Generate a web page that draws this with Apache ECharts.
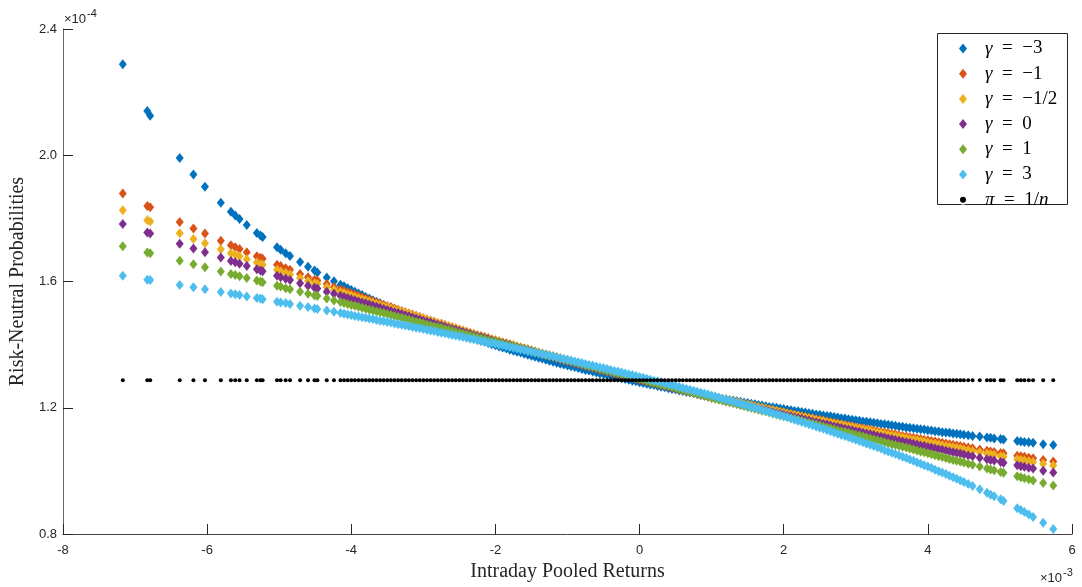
<!DOCTYPE html>
<html>
<head>
<meta charset="utf-8">
<script src="https://cdn.jsdelivr.net/npm/echarts@6/dist/echarts.min.js"></script>
<style>
  html, body { margin: 0; padding: 0; background: #fff; }
  #chart { width: 1082px; height: 587px; }
</style>
</head>
<body>
<div id="chart"></div>
<script>
// intraday pooled returns, in units of 1e-3
const returns = [
  -7.17, -6.83, -6.79, -6.38, -6.19, -6.03, -5.81, -5.67, -5.61, -5.55, -5.45, -5.31, -5.26, -5.23,
  -5.03, -4.98, -4.91, -4.85, -4.71, -4.60, -4.51, -4.47, -4.34,
  -4.24, -4.15, -4.10, -4.05, -4.00, -3.95, -3.90, -3.85, -3.80, -3.75, -3.70, -3.65, -3.60, -3.55,
  -3.50, -3.45, -3.40, -3.35, -3.30, -3.25, -3.20, -3.15, -3.10, -3.05,
  -3.00, -2.95, -2.90, -2.85, -2.80, -2.75, -2.70, -2.65, -2.60, -2.55,
  -2.50, -2.45, -2.40, -2.35, -2.30, -2.25, -2.20, -2.15, -2.10, -2.05,
  -2.00, -1.95, -1.90, -1.85, -1.80, -1.75, -1.70, -1.65, -1.60, -1.55,
  -1.50, -1.45, -1.40, -1.35, -1.30, -1.25, -1.20, -1.15, -1.10, -1.05,
  -1.00, -0.95, -0.90, -0.85, -0.80, -0.75, -0.70, -0.65, -0.60, -0.55,
  -0.50, -0.45, -0.40, -0.35, -0.30, -0.25, -0.20, -0.15, -0.10, -0.05,
  0.00, 0.05, 0.10, 0.15, 0.20, 0.25, 0.30, 0.35, 0.40, 0.45,
  0.50, 0.55, 0.60, 0.65, 0.70, 0.75, 0.80, 0.85, 0.90, 0.95,
  1.00, 1.05, 1.10, 1.15, 1.20, 1.25, 1.30, 1.35, 1.40, 1.45,
  1.50, 1.55, 1.60, 1.65, 1.70, 1.75, 1.80, 1.85, 1.90, 1.95,
  2.00, 2.05, 2.10, 2.15, 2.20, 2.25, 2.30, 2.35, 2.40, 2.45,
  2.50, 2.55, 2.60, 2.65, 2.70, 2.75, 2.80, 2.85, 2.90, 2.95,
  3.00, 3.05, 3.10, 3.15, 3.20, 3.25, 3.30, 3.35, 3.40, 3.45,
  3.50,
  3.55, 3.60, 3.65, 3.70, 3.75, 3.80, 3.85, 3.90, 3.95, 4.00, 4.05, 4.10, 4.15, 4.20, 4.25, 4.30, 4.35,
  4.40, 4.45, 4.50, 4.56, 4.62, 4.72, 4.82, 4.87, 4.92, 5.01, 5.05,
  5.24, 5.29, 5.34, 5.40, 5.46, 5.60, 5.74
];

// risk-neutral probabilities, in units of 1e-4
const gammaMinus3 = [
  2.288, 2.140, 2.125, 1.991, 1.939, 1.900, 1.850, 1.821, 1.809, 1.798, 1.779, 1.754, 1.746, 1.741,
  1.709, 1.701, 1.690, 1.681, 1.662, 1.647, 1.635, 1.629, 1.613,
  1.601, 1.590, 1.585, 1.579, 1.573, 1.568, 1.562, 1.557, 1.551, 1.546, 1.541, 1.536, 1.531, 1.526,
  1.521, 1.516, 1.512, 1.507, 1.503, 1.498, 1.493, 1.489, 1.484, 1.480,
  1.475, 1.471, 1.467, 1.463, 1.459, 1.455, 1.451, 1.447, 1.442, 1.438,
  1.434, 1.431, 1.427, 1.423, 1.420, 1.416, 1.412, 1.409, 1.405, 1.401,
  1.398, 1.394, 1.391, 1.388, 1.384, 1.381, 1.378, 1.375, 1.371, 1.368,
  1.365, 1.362, 1.359, 1.356, 1.352, 1.349, 1.346, 1.343, 1.340, 1.337,
  1.334, 1.332, 1.329, 1.326, 1.323, 1.320, 1.318, 1.315, 1.312, 1.309,
  1.307, 1.304, 1.302, 1.299, 1.296, 1.294, 1.291, 1.289, 1.286, 1.284,
  1.281, 1.279, 1.276, 1.274, 1.272, 1.269, 1.267, 1.265, 1.262, 1.260,
  1.258, 1.255, 1.253, 1.251, 1.249, 1.247, 1.244, 1.242, 1.240, 1.238,
  1.236, 1.233, 1.231, 1.229, 1.227, 1.225, 1.223, 1.221, 1.219, 1.217,
  1.215, 1.213, 1.211, 1.209, 1.207, 1.205, 1.203, 1.202, 1.200, 1.198,
  1.196, 1.194, 1.192, 1.190, 1.189, 1.187, 1.185, 1.183, 1.181, 1.179,
  1.178, 1.176, 1.174, 1.173, 1.171, 1.169, 1.167, 1.166, 1.164, 1.162,
  1.161, 1.159, 1.157, 1.156, 1.154, 1.153, 1.151, 1.149, 1.148, 1.146,
  1.145,
  1.143, 1.141, 1.140, 1.138, 1.137, 1.135, 1.134, 1.132, 1.131, 1.129, 1.128, 1.126, 1.125, 1.123, 1.122, 1.121, 1.119,
  1.118, 1.116, 1.115, 1.113, 1.111, 1.109, 1.106, 1.105, 1.103, 1.101, 1.100,
  1.095, 1.093, 1.092, 1.091, 1.089, 1.085, 1.082
];

const gammaMinus1 = [
  1.879, 1.839, 1.835, 1.789, 1.768, 1.752, 1.729, 1.715, 1.709, 1.703, 1.693, 1.680, 1.675, 1.672,
  1.653, 1.649, 1.642, 1.637, 1.624, 1.614, 1.606, 1.603, 1.592,
  1.583, 1.575, 1.571, 1.567, 1.563, 1.559, 1.555, 1.550, 1.546, 1.542, 1.538, 1.534, 1.530, 1.526,
  1.522, 1.519, 1.515, 1.511, 1.507, 1.503, 1.499, 1.496, 1.492, 1.488,
  1.484, 1.480, 1.477, 1.473, 1.469, 1.466, 1.462, 1.458, 1.455, 1.451,
  1.448, 1.444, 1.441, 1.437, 1.434, 1.430, 1.427, 1.423, 1.420, 1.416,
  1.413, 1.410, 1.406, 1.403, 1.400, 1.396, 1.393, 1.390, 1.386, 1.383,
  1.380, 1.376, 1.373, 1.370, 1.367, 1.364, 1.361, 1.358, 1.354, 1.351,
  1.348, 1.345, 1.342, 1.339, 1.336, 1.333, 1.330, 1.327, 1.324, 1.321,
  1.318, 1.315, 1.312, 1.309, 1.306, 1.303, 1.301, 1.298, 1.295, 1.292,
  1.289, 1.286, 1.283, 1.281, 1.278, 1.275, 1.272, 1.270, 1.267, 1.264,
  1.261, 1.259, 1.256, 1.253, 1.251, 1.248, 1.246, 1.243, 1.240, 1.238,
  1.235, 1.232, 1.230, 1.227, 1.225, 1.222, 1.220, 1.217, 1.215, 1.212,
  1.210, 1.207, 1.205, 1.202, 1.200, 1.197, 1.195, 1.193, 1.190, 1.188,
  1.185, 1.183, 1.181, 1.178, 1.176, 1.174, 1.171, 1.169, 1.167, 1.164,
  1.162, 1.160, 1.157, 1.155, 1.153, 1.151, 1.148, 1.146, 1.144, 1.142,
  1.139, 1.137, 1.135, 1.133, 1.131, 1.129, 1.126, 1.124, 1.122, 1.120,
  1.118,
  1.116, 1.113, 1.111, 1.109, 1.107, 1.105, 1.103, 1.101, 1.099, 1.097, 1.095, 1.093, 1.091, 1.089, 1.087, 1.085, 1.083,
  1.081, 1.079, 1.077, 1.074, 1.072, 1.068, 1.064, 1.062, 1.060, 1.057, 1.056,
  1.048, 1.047, 1.045, 1.042, 1.040, 1.035, 1.030
];

const gammaMinusHalf = [
  1.826, 1.794, 1.790, 1.753, 1.735, 1.721, 1.702, 1.690, 1.685, 1.680, 1.671, 1.660, 1.655, 1.653,
  1.637, 1.632, 1.627, 1.622, 1.611, 1.602, 1.595, 1.592, 1.582,
  1.574, 1.567, 1.563, 1.559, 1.556, 1.552, 1.548, 1.544, 1.541, 1.537, 1.533, 1.529, 1.526, 1.522,
  1.519, 1.515, 1.511, 1.508, 1.504, 1.501, 1.497, 1.493, 1.490, 1.486,
  1.483, 1.479, 1.476, 1.472, 1.469, 1.465, 1.462, 1.459, 1.455, 1.452,
  1.448, 1.445, 1.441, 1.438, 1.435, 1.431, 1.428, 1.425, 1.421, 1.418,
  1.415, 1.412, 1.408, 1.405, 1.402, 1.399, 1.395, 1.392, 1.389, 1.386,
  1.383, 1.379, 1.376, 1.373, 1.370, 1.367, 1.364, 1.361, 1.358, 1.354,
  1.351, 1.348, 1.345, 1.342, 1.339, 1.336, 1.333, 1.330, 1.327, 1.324,
  1.321, 1.318, 1.315, 1.313, 1.310, 1.307, 1.304, 1.301, 1.298, 1.295,
  1.292, 1.289, 1.287, 1.284, 1.281, 1.278, 1.275, 1.272, 1.270, 1.267,
  1.264, 1.261, 1.259, 1.256, 1.253, 1.250, 1.248, 1.245, 1.242, 1.239,
  1.237, 1.234, 1.231, 1.229, 1.226, 1.224, 1.221, 1.218, 1.216, 1.213,
  1.210, 1.208, 1.205, 1.203, 1.200, 1.198, 1.195, 1.193, 1.190, 1.187,
  1.185, 1.182, 1.180, 1.177, 1.175, 1.172, 1.170, 1.167, 1.165, 1.162,
  1.160, 1.158, 1.155, 1.153, 1.150, 1.148, 1.146, 1.143, 1.141, 1.139,
  1.136, 1.134, 1.131, 1.129, 1.127, 1.124, 1.122, 1.120, 1.117, 1.115,
  1.113,
  1.111, 1.108, 1.106, 1.104, 1.101, 1.099, 1.097, 1.095, 1.093, 1.090, 1.088, 1.086, 1.084, 1.081, 1.079, 1.077, 1.075,
  1.073, 1.071, 1.068, 1.066, 1.063, 1.059, 1.055, 1.053, 1.051, 1.047, 1.045,
  1.037, 1.035, 1.033, 1.031, 1.028, 1.023, 1.017
];

const gammaZero = [
  1.782, 1.755, 1.752, 1.720, 1.705, 1.693, 1.676, 1.665, 1.661, 1.656, 1.649, 1.639, 1.635, 1.633,
  1.618, 1.614, 1.609, 1.605, 1.595, 1.587, 1.580, 1.578, 1.568,
  1.561, 1.555, 1.551, 1.548, 1.544, 1.541, 1.537, 1.534, 1.531, 1.527, 1.524, 1.520, 1.517, 1.513,
  1.510, 1.507, 1.503, 1.500, 1.497, 1.493, 1.490, 1.486, 1.483, 1.480,
  1.476, 1.473, 1.470, 1.466, 1.463, 1.460, 1.457, 1.453, 1.450, 1.447,
  1.443, 1.440, 1.437, 1.434, 1.430, 1.427, 1.424, 1.421, 1.418, 1.414,
  1.411, 1.408, 1.405, 1.402, 1.399, 1.395, 1.392, 1.389, 1.386, 1.383,
  1.380, 1.377, 1.373, 1.370, 1.367, 1.364, 1.361, 1.358, 1.355, 1.352,
  1.349, 1.346, 1.343, 1.340, 1.337, 1.334, 1.331, 1.328, 1.325, 1.322,
  1.319, 1.316, 1.313, 1.310, 1.307, 1.304, 1.301, 1.298, 1.295, 1.292,
  1.289, 1.286, 1.284, 1.281, 1.278, 1.275, 1.272, 1.269, 1.266, 1.263,
  1.261, 1.258, 1.255, 1.252, 1.249, 1.247, 1.244, 1.241, 1.238, 1.235,
  1.232, 1.230, 1.227, 1.224, 1.221, 1.219, 1.216, 1.213, 1.210, 1.208,
  1.205, 1.202, 1.200, 1.197, 1.194, 1.192, 1.189, 1.186, 1.183, 1.181,
  1.178, 1.175, 1.173, 1.170, 1.168, 1.165, 1.162, 1.160, 1.157, 1.154,
  1.152, 1.149, 1.147, 1.144, 1.141, 1.139, 1.136, 1.134, 1.131, 1.129,
  1.126, 1.124, 1.121, 1.119, 1.116, 1.114, 1.111, 1.108, 1.106, 1.103,
  1.101,
  1.098, 1.096, 1.093, 1.091, 1.089, 1.086, 1.084, 1.081, 1.079, 1.076, 1.074, 1.071, 1.069, 1.067, 1.064, 1.062, 1.059,
  1.057, 1.055, 1.052, 1.049, 1.047, 1.042, 1.037, 1.035, 1.033, 1.028, 1.026,
  1.018, 1.015, 1.013, 1.010, 1.008, 1.001, 0.995
];

const gammaPlus1 = [
  1.712, 1.692, 1.690, 1.666, 1.655, 1.645, 1.632, 1.624, 1.621, 1.617, 1.611, 1.603, 1.600, 1.598,
  1.587, 1.584, 1.579, 1.576, 1.568, 1.561, 1.556, 1.554, 1.546,
  1.540, 1.535, 1.532, 1.529, 1.526, 1.523, 1.520, 1.517, 1.514, 1.511, 1.508, 1.505, 1.503, 1.500,
  1.497, 1.494, 1.491, 1.488, 1.485, 1.482, 1.479, 1.476, 1.473, 1.470,
  1.467, 1.464, 1.461, 1.458, 1.456, 1.453, 1.450, 1.447, 1.444, 1.441,
  1.438, 1.435, 1.432, 1.429, 1.426, 1.423, 1.420, 1.417, 1.414, 1.411,
  1.409, 1.406, 1.403, 1.400, 1.397, 1.394, 1.391, 1.388, 1.385, 1.382,
  1.379, 1.376, 1.373, 1.370, 1.367, 1.364, 1.362, 1.359, 1.356, 1.353,
  1.350, 1.347, 1.344, 1.341, 1.338, 1.335, 1.332, 1.329, 1.326, 1.323,
  1.320, 1.317, 1.315, 1.312, 1.309, 1.306, 1.303, 1.300, 1.297, 1.294,
  1.291, 1.288, 1.285, 1.282, 1.279, 1.276, 1.273, 1.270, 1.268, 1.265,
  1.262, 1.259, 1.256, 1.253, 1.250, 1.247, 1.244, 1.241, 1.238, 1.235,
  1.232, 1.229, 1.226, 1.223, 1.221, 1.218, 1.215, 1.212, 1.209, 1.206,
  1.203, 1.200, 1.197, 1.194, 1.191, 1.188, 1.185, 1.182, 1.179, 1.176,
  1.173, 1.171, 1.168, 1.165, 1.162, 1.159, 1.156, 1.153, 1.150, 1.147,
  1.144, 1.141, 1.138, 1.135, 1.132, 1.129, 1.126, 1.124, 1.121, 1.118,
  1.115, 1.112, 1.109, 1.106, 1.103, 1.100, 1.097, 1.094, 1.091, 1.088,
  1.085,
  1.082, 1.079, 1.077, 1.074, 1.071, 1.068, 1.065, 1.062, 1.059, 1.056, 1.053, 1.050, 1.047, 1.044, 1.041, 1.038, 1.035,
  1.032, 1.030, 1.027, 1.023, 1.020, 1.014, 1.008, 1.005, 1.002, 0.997, 0.994,
  0.983, 0.980, 0.977, 0.974, 0.970, 0.962, 0.954
];

const gammaPlus3 = [
  1.618, 1.606, 1.605, 1.589, 1.582, 1.576, 1.567, 1.562, 1.560, 1.557, 1.553, 1.548, 1.546, 1.544,
  1.536, 1.534, 1.532, 1.529, 1.523, 1.519, 1.515, 1.513, 1.508,
  1.504, 1.500, 1.498, 1.496, 1.494, 1.491, 1.489, 1.487, 1.485, 1.483, 1.481, 1.478, 1.476, 1.474,
  1.472, 1.470, 1.467, 1.465, 1.463, 1.461, 1.459, 1.456, 1.454, 1.452,
  1.450, 1.447, 1.445, 1.443, 1.440, 1.438, 1.436, 1.433, 1.431, 1.429,
  1.427, 1.424, 1.422, 1.419, 1.417, 1.415, 1.412, 1.410, 1.407, 1.405,
  1.403, 1.400, 1.398, 1.395, 1.393, 1.390, 1.388, 1.385, 1.383, 1.380,
  1.378, 1.375, 1.373, 1.370, 1.368, 1.365, 1.363, 1.360, 1.357, 1.355,
  1.352, 1.350, 1.347, 1.344, 1.342, 1.339, 1.336, 1.334, 1.331, 1.328,
  1.326, 1.323, 1.320, 1.317, 1.315, 1.312, 1.309, 1.306, 1.304, 1.301,
  1.298, 1.295, 1.292, 1.289, 1.286, 1.284, 1.281, 1.278, 1.275, 1.272,
  1.269, 1.266, 1.263, 1.260, 1.257, 1.254, 1.251, 1.248, 1.245, 1.242,
  1.239, 1.236, 1.232, 1.229, 1.226, 1.223, 1.220, 1.216, 1.213, 1.210,
  1.207, 1.203, 1.200, 1.197, 1.193, 1.190, 1.187, 1.183, 1.180, 1.177,
  1.173, 1.170, 1.166, 1.162, 1.159, 1.155, 1.152, 1.148, 1.145, 1.141,
  1.137, 1.134, 1.130, 1.126, 1.122, 1.118, 1.114, 1.111, 1.107, 1.103,
  1.099, 1.095, 1.091, 1.087, 1.083, 1.079, 1.075, 1.071, 1.066, 1.062,
  1.058,
  1.054, 1.050, 1.045, 1.041, 1.036, 1.032, 1.027, 1.023, 1.018, 1.014, 1.009, 1.004, 0.999, 0.995, 0.990, 0.985, 0.980,
  0.975, 0.970, 0.965, 0.959, 0.952, 0.942, 0.931, 0.925, 0.920, 0.910, 0.905,
  0.882, 0.876, 0.870, 0.862, 0.854, 0.836, 0.816
];

// pi = 1/n, the same for every observation
const uniformProb = 1.2875;

const xTicks = [-8, -6, -4, -2, 0, 2, 4, 6];
const yTicks = [0.8, 1.2, 1.6, 2.0, 2.4];

const seriesDefs = [
  { name: 'g-3',   label: '{s|}{g|γ}{t|  =  −3}',   color: '#0072BD', values: gammaMinus3 },
  { name: 'g-1',   label: '{s|}{g|γ}{t|  =  −1}',   color: '#D95319', values: gammaMinus1 },
  { name: 'g-1/2', label: '{s|}{g|γ}{t|  =  −1/2}', color: '#EDB120', values: gammaMinusHalf },
  { name: 'g0',    label: '{s|}{g|γ}{t|  =  0}',    color: '#7E2F8E', values: gammaZero },
  { name: 'g1',    label: '{s|}{g|γ}{t|  =  1}',    color: '#77AC30', values: gammaPlus1 },
  { name: 'g3',    label: '{s|}{g|γ}{t|  =  3}',    color: '#4DBEEE', values: gammaPlus3 }
];
const labelFor = { pi: '{s|}{g|π}{t|  =  1/}{g|n}' };
seriesDefs.forEach(d => { labelFor[d.name] = d.label; });

const series = seriesDefs.map(d => ({
  name: d.name,
  type: 'scatter',
  symbol: 'diamond',
  symbolSize: [8, 10],
  itemStyle: { color: d.color, opacity: 1 },
  emphasis: { disabled: true },
  data: returns.map((r, i) => [r, d.values[i]])
}));
series.push({
  name: 'pi',
  type: 'scatter',
  symbol: 'circle',
  symbolSize: 4,
  itemStyle: { color: '#000', opacity: 1 },
  emphasis: { disabled: true },
  data: returns.map(r => [r, uniformProb])
});

const axisColor = '#262626';
const tickFont = { fontFamily: 'Liberation Sans', fontSize: 13, color: axisColor };
const legendFont = { fontFamily: 'Liberation Serif', fontSize: 19, color: '#000', lineHeight: 18 };

const chart = echarts.init(document.getElementById('chart'), null, { renderer: 'canvas' });
chart.setOption({
  animation: false,
  backgroundColor: '#fff',
  grid: { left: 62, right: 10, top: 29, bottom: 46 },
  xAxis: {
    type: 'value',
    min: xTicks[0],
    max: xTicks[xTicks.length - 1],
    interval: 2,
    name: 'Intraday Pooled Returns',
    nameLocation: 'middle',
    nameGap: 26,
    nameTextStyle: { fontFamily: 'Liberation Serif', fontSize: 20, color: axisColor },
    axisLine: { onZero: false, lineStyle: { color: '#444', width: 1 } },
    axisTick: { inside: true, length: 10, lineStyle: { color: axisColor } },
    axisLabel: Object.assign({ margin: 10 }, tickFont),
    splitLine: { show: false }
  },
  yAxis: {
    type: 'value',
    min: yTicks[0],
    max: yTicks[yTicks.length - 1],
    interval: 0.4,
    name: 'Risk-Neutral Probabilities',
    nameLocation: 'middle',
    nameGap: 30,
    nameTextStyle: { fontFamily: 'Liberation Serif', fontSize: 20, color: axisColor },
    axisLine: { onZero: false, lineStyle: { color: '#666', width: 1 } },
    axisTick: { inside: true, length: 10, lineStyle: { color: axisColor } },
    axisLabel: Object.assign({ margin: 6, formatter: v => v.toFixed(1) }, tickFont),
    splitLine: { show: false }
  },
  legend: {
    orient: 'vertical',
    left: 937,
    top: 35,
    padding: [4, 4, 4, 21],
    itemWidth: 8,
    itemHeight: 10,
    itemGap: 6.2,
    data: seriesDefs.map(d => ({ name: d.name, icon: 'diamond' }))
      .concat([{ name: 'pi', icon: 'circle', itemStyle: { color: '#000', borderColor: '#fff', borderWidth: 2 } }]),
    formatter: name => labelFor[name],
    textStyle: {
      lineHeight: 18,
      rich: {
        s: { width: 13, lineHeight: 18 },
        g: Object.assign({ fontStyle: 'italic' }, legendFont),
        t: legendFont
      }
    }
  },
  graphic: [
    { type: 'rect', left: 937, top: 33, z: -1, shape: { width: 130, height: 171 },
      style: { fill: '#fff', stroke: axisColor, lineWidth: 1 } },
    { type: 'text', left: 64, top: 13, style: { text: '×10', font: '13px "Liberation Sans"', fill: axisColor } },
    { type: 'text', left: 87, top: 8, style: { text: '-4', font: '11px "Liberation Sans"', fill: axisColor } },
    { type: 'text', left: 1040, top: 572, style: { text: '×10', font: '13px "Liberation Sans"', fill: axisColor } },
    { type: 'text', left: 1063, top: 567, style: { text: '-3', font: '11px "Liberation Sans"', fill: axisColor } }
  ],
  series: series
});
</script>
</body>
</html>
